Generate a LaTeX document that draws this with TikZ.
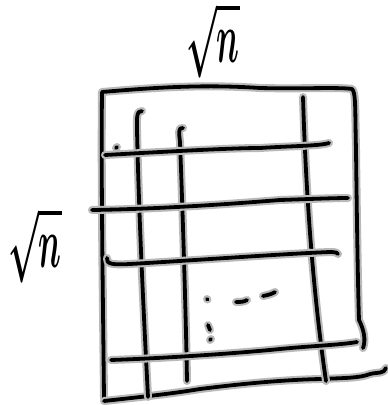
\documentclass[tikz,border=0pt]{standalone}
\begin{document}
\begin{tikzpicture}[x=1pt,y=-1pt,
  ink/.style={line width=3.8pt,black,line cap=round,line join=round,
    preaction={draw=gray!55,line width=8pt,line cap=round,line join=round}},
  dot/.style={ink},
  lbl/.style={inner sep=0pt}]
\useasboundingbox (0,0) rectangle (388,405);
% labels
\node[lbl] (top) at (213,40) {\scalebox{3.2}[7.2]{\boldmath$\sqrt{n}$}};
\node[lbl] (left) at (35,245) {\scalebox{3.2}[7.2]{\boldmath$\sqrt{n}$}};
% outer frame
\draw[ink] (104,398) .. controls (103,300) and (101,180) .. (102,92)
  .. controls (150,88) and (200,84) .. (260,88)
  .. controls (300,89) and (340,87) .. (352,89)
  .. controls (356,92) and (355,110) .. (356,150)
  .. controls (357,230) and (358,290) .. (359,320)
  .. controls (364,330) and (366,340) .. (363,348);
\draw[ink] (104,401) .. controls (140,397) and (170,394) .. (200,389)
  .. controls (240,384) and (280,380) .. (320,379)
  .. controls (345,378) and (360,378) .. (370,374)
  .. controls (378,372) and (384,374) .. (386,368);
% vertical lines
\draw[ink] (142,111) .. controls (136,110) and (137,120) .. (137,130)
  .. controls (139,220) and (144,320) .. (148,397);
\draw[ink] (183,128) .. controls (178,127) and (179,133) .. (180,142)
  .. controls (183,220) and (186,320) .. (187,381);
\draw[ink] (303,97) .. controls (306,200) and (314,300) .. (326,381);
% horizontal lines
\draw[ink] (105,155) .. controls (160,152) and (230,148) .. (260,148)
  .. controls (290,146) and (320,146) .. (329,143);
\draw[ink] (92,210) .. controls (160,209) and (230,204) .. (280,200)
  .. controls (310,199) and (335,198) .. (348,198);
\draw[ink] (107,258) .. controls (106,264) and (112,265) .. (130,264)
  .. controls (200,260) and (280,254) .. (330,252)
  .. controls (336,252) and (338,253) .. (338,254);
\draw[ink] (111,360) .. controls (170,358) and (240,353) .. (280,349)
  .. controls (310,346) and (340,345) .. (357,342);
% marks
\draw[dot] (116,148) -- (117,147);
\draw[dot] (207,299) -- (207.5,299.5);
\draw[dot] (236,302) .. controls (240,302) and (244,302) .. (247,300);
\draw[dot] (263,296) .. controls (268,295) and (272,294) .. (275,292);
\draw[dot] (208,325) -- (210,330);
\draw[dot] (210,340) -- (211,339);
\end{tikzpicture}
\end{document}
